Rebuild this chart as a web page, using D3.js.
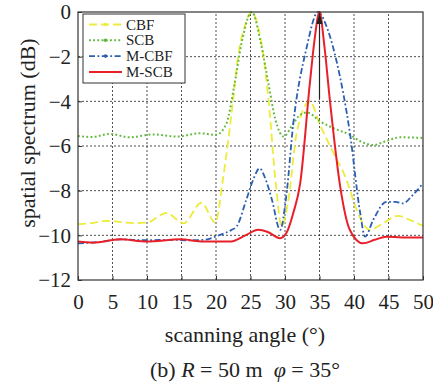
<!DOCTYPE html>
<html>
<head>
<meta charset="utf-8">
<script src="https://cdn.jsdelivr.net/npm/d3@7"></script>
<style>
  body { margin: 0; background: #fff; }
  text { font-family: "Liberation Serif", "Times New Roman", serif; fill: #222; }
</style>
</head>
<body>
<div id="chart"></div>
<script>
// values (angle in degrees, spectrum in dB)
var cbfAngle = [0, 2, 4, 6, 8, 10, 12.8, 15.3, 17.9, 19.9, 21, 22.5, 23.2, 24.2, 25.2, 26.2, 26.9, 27.6, 28.7, 29.5, 30.5, 31.7, 33.6, 35, 37, 38.9, 40.3, 41.3, 42.3, 44, 46.4, 48, 50];
var cbfValue = [-9.5, -9.45, -9.35, -9.4, -9.45, -9.43, -9.0, -9.46, -8.54, -9.43, -7.5, -3.9, -2.0, -0.6, 0, -0.8, -2.0, -3.9, -7.8, -9.6, -8.4, -5.4, -4.0, -5.0, -6.3, -7.5, -8.8, -9.46, -9.76, -9.5, -9.13, -9.3, -9.58];

var scbAngle = [0, 2, 4.6, 7.5, 10.9, 14.3, 17.7, 20, 21.5, 22.7, 23.7, 25.2, 26.5, 27.6, 28.6, 29.8, 31, 32.2, 33.2, 35.1, 37, 39.4, 41, 42.8, 44.5, 46.7, 48.5, 50];
var scbValue = [-5.55, -5.6, -5.46, -5.61, -5.48, -5.58, -5.43, -5.5, -5.0, -3.2, -1.4, 0, -1.4, -3.2, -4.8, -5.58, -5.1, -4.6, -4.5, -4.9, -5.2, -5.5, -5.8, -5.96, -5.8, -5.61, -5.62, -5.64];

var mcbfAngle = [0, 3, 6.1, 10, 13.3, 16, 18.2, 20.6, 22.3, 23, 24.4, 25.4, 26.3, 27.2, 28.1, 29.3, 30.2, 31.2, 33.1, 34.8, 36.2, 37.5, 39.4, 40.9, 41.6, 42.8, 44.7, 46, 47.1, 48.5, 50];
var mcbfValue = [-10.36, -10.3, -10.18, -10.22, -10.2, -10.22, -10.2, -9.98, -9.75, -9.6, -8.4, -7.5, -7.0, -7.5, -8.4, -9.76, -8.2, -5.0, -1.64, 0, -0.8, -2.24, -5.4, -9.0, -10.06, -9.3, -8.5, -8.5, -8.57, -8.2, -7.67];

var mscbAngle = [0, 2.2, 6.1, 10, 14.8, 18.2, 22, 24.4, 26.1, 27.5, 29.3, 30.2, 31.2, 32.2, 33.6, 34.3, 35, 35.7, 36.5, 38, 39.4, 41.3, 43, 44.7, 47, 50];
var mscbValue = [-10.28, -10.33, -10.18, -10.28, -10.18, -10.28, -10.28, -9.98, -9.75, -9.85, -10.13, -9.9, -9.0, -7.67, -3.2, -1.2, 0, -1.5, -3.94, -7.82, -9.76, -10.36, -10.2, -10.06, -10.1, -10.1];

var seriesNames = ['CBF', 'SCB', 'M-CBF', 'M-SCB'];
var xTicks = [0, 5, 10, 15, 20, 25, 30, 35, 40, 45, 50];
var yTicks = [0, -2, -4, -6, -8, -10, -12];
var arrowAngle = 35;
var arrowFrom = -3.9;

// chart size
var width = 433, height = 389;
var margin = { left: 78, right: 10, top: 12, bottom: 109 };

var svg = d3.select('#chart').append('svg')
  .attr('width', width)
  .attr('height', height);

var x = d3.scaleLinear().domain([0, 50]).range([margin.left, width - margin.right]);
var y = d3.scaleLinear().domain([-12, 0]).range([height - margin.bottom, margin.top]);

// dotted grid
var grid = svg.append('g');
grid.selectAll('.gx').data(xTicks.slice(1, -1)).enter().append('line')
  .attr('x1', function(d) { return x(d); })
  .attr('x2', function(d) { return x(d); })
  .attr('y1', y(-12)).attr('y2', y(0))
  .attr('stroke', '#222').attr('stroke-width', 0.8)
  .attr('stroke-dasharray', '2,2');
grid.selectAll('.gy').data(yTicks.slice(1, -1)).enter().append('line')
  .attr('y1', function(d) { return y(d); })
  .attr('y2', function(d) { return y(d); })
  .attr('x1', x(0)).attr('x2', x(50))
  .attr('stroke', '#222').attr('stroke-width', 0.8)
  .attr('stroke-dasharray', '2,2');

// axes with inward ticks
var xAxis = svg.append('g')
  .attr('transform', 'translate(0,' + y(-12) + ')')
  .call(d3.axisBottom(x).tickValues(xTicks).tickSize(-4).tickPadding(14).tickFormat(d3.format('d')));
var yAxis = svg.append('g')
  .attr('transform', 'translate(' + x(0) + ',0)')
  .call(d3.axisLeft(y).tickValues(yTicks).tickSize(-4).tickPadding(7).tickFormat(d3.format('d')));
[xAxis, yAxis].forEach(function(ax) {
  ax.select('.domain').remove();
  ax.selectAll('line').attr('stroke', '#333');
  ax.selectAll('text').style('font-family', '"Liberation Serif", serif').style('font-size', '21px').attr('fill', '#222');
});

// series lines
var line = d3.line()
  .x(function(d) { return x(d[0]); })
  .y(function(d) { return y(d[1]); })
  .curve(d3.curveMonotoneX);

var series = [
  { angle: cbfAngle, value: cbfValue, color: '#ecec3c', dash: '8,4', width: 1.8 },
  { angle: scbAngle, value: scbValue, color: '#5fb83a', dash: '1.8,2.4', width: 2 },
  { angle: mcbfAngle, value: mcbfValue, color: '#2b5fb4', dash: '6,2.5,1.8,2.5', width: 1.8 },
  { angle: mscbAngle, value: mscbValue, color: '#e8202a', dash: null, width: 2 }
];

var plot = svg.append('g');
series.forEach(function(s) {
  var pts = s.angle.map(function(a, i) { return [a, s.value[i]]; });
  plot.append('path')
    .attr('d', line(pts))
    .attr('fill', 'none')
    .attr('stroke', s.color)
    .attr('stroke-width', s.width)
    .attr('stroke-dasharray', s.dash);
});

// arrow marking the true direction
plot.append('line')
  .attr('x1', x(arrowAngle)).attr('x2', x(arrowAngle))
  .attr('y1', y(arrowFrom)).attr('y2', y(0) + 10)
  .attr('stroke', '#222').attr('stroke-width', 1.2);
plot.append('path')
  .attr('d', 'M' + x(arrowAngle) + ',' + y(0) + 'l-3,12l6,0z')
  .attr('fill', '#222');

// plot border
svg.append('rect')
  .attr('x', x(0)).attr('y', y(0))
  .attr('width', x(50) - x(0)).attr('height', y(-12) - y(0))
  .attr('fill', 'none').attr('stroke', '#333').attr('stroke-width', 1.2);

// legend
var legend = svg.append('g');
legend.append('rect')
  .attr('x', 83).attr('y', 14).attr('width', 102).attr('height', 69)
  .attr('fill', '#fff').attr('stroke', '#333').attr('stroke-width', 1);
series.forEach(function(s, i) {
  var ly = 24.5 + i * 15.8;
  legend.append('line')
    .attr('x1', 89).attr('x2', 122).attr('y1', ly).attr('y2', ly)
    .attr('stroke', s.color).attr('stroke-width', s.width)
    .attr('stroke-dasharray', s.dash);
  if (i < 3) {
    legend.append('circle').attr('cx', 105.5).attr('cy', ly).attr('r', 1.8).attr('fill', s.color);
  }
  legend.append('text')
    .attr('x', 126).attr('y', ly + 5)
    .style('font-size', '15px')
    .text(seriesNames[i]);
});

// axis titles
svg.append('text')
  .attr('x', 245).attr('y', 342)
  .attr('text-anchor', 'middle')
  .style('font-size', '22px')
  .text('scanning angle (°)');

svg.append('text')
  .attr('transform', 'translate(35,133) rotate(-90)')
  .attr('text-anchor', 'middle')
  .style('font-size', '22px')
  .text('spatial spectrum (dB)');

var caption = svg.append('text')
  .attr('x', 245).attr('y', 377)
  .attr('text-anchor', 'middle')
  .style('font-size', '22px');
caption.append('tspan').text('(b) ');
caption.append('tspan').style('font-style', 'italic').text('R');
caption.append('tspan').text(' = 50 m\u00a0\u00a0');
caption.append('tspan').style('font-style', 'italic').text('φ');
caption.append('tspan').text(' = 35°');
</script>
</body>
</html>
